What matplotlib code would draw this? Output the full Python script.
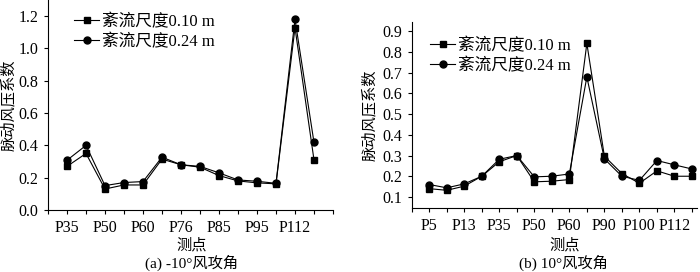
import numpy as np
import matplotlib
matplotlib.use('Agg')
import matplotlib.pyplot as plt

plt.rcParams['font.family'] = ['Liberation Serif', 'Noto Sans CJK SC']
plt.rcParams['font.size'] = 11.5

# (a) -10 deg
labels_a = ['P35', 'P50', 'P60', 'P76', 'P85', 'P95', 'P112']
a_010 = [0.27, 0.35, 0.13, 0.155, 0.155, 0.315, 0.28, 0.265, 0.213, 0.18, 0.168, 0.162, 1.128, 0.31]
a_024 = [0.308, 0.40, 0.151, 0.17, 0.176, 0.327, 0.28, 0.27, 0.23, 0.186, 0.178, 0.165, 1.18, 0.418]

# (b) 10 deg
labels_b = ['P5', 'P13', 'P35', 'P50', 'P60', 'P90', 'P100', 'P112']
b_010 = [0.14, 0.132, 0.152, 0.20, 0.27, 0.30, 0.173, 0.176, 0.184, 0.842, 0.297, 0.213, 0.166, 0.226, 0.20, 0.20]
b_024 = [0.16, 0.144, 0.163, 0.20, 0.282, 0.30, 0.197, 0.20, 0.211, 0.68, 0.284, 0.20, 0.18, 0.276, 0.255, 0.235]

legend_names = ['紊流尺度0.10 m', '紊流尺度0.24 m']

fig = plt.figure(figsize=(7, 2.72), dpi=100)
W, H = 700, 272

ax1 = fig.add_axes([48 / W, (H - 210) / H, 285 / W, 210 / H])
ax2 = fig.add_axes([411.7 / W, (H - 208.3) / H, 285.5 / W, (208.3 - 21.7) / H])


def draw(ax, y1, y2, labels, xmax, legend_xy, label_x):
    x = np.arange(len(y1))
    ax.plot(x, y1, '-s', color='black', lw=0.8, ms=4.4, label=legend_names[0])
    ax.plot(x, y2, '-o', color='black', lw=0.8, ms=5, label=legend_names[1])
    ax.set_xlim(-1, xmax)
    ax.set_xticks(np.arange(0, 2 * len(labels), 2))
    ax.set_xticklabels(labels)
    ax.set_xticks(np.arange(-1, int(xmax) + 1, 1), minor=True)
    ax.tick_params(which='both', direction='out', length=3, width=0.8, pad=4)
    ax.spines['top'].set_visible(False)
    ax.spines['right'].set_visible(False)
    for s in ['left', 'bottom']:
        ax.spines[s].set_linewidth(0.8)
    ax.set_ylabel('脉动风压系数', fontsize=11)
    ax.yaxis.set_label_coords(label_x, 0.5)
    ax.legend(loc='upper left', bbox_to_anchor=legend_xy, bbox_transform=fig.transFigure,
              frameon=False, fontsize=12, handlelength=1.5, handletextpad=0.2,
              labelspacing=0.2, borderpad=0, borderaxespad=0)


draw(ax1, a_010, a_024, labels_a, 14, (74 / W, 1 - 14 / H), -0.113)
ax1.set_ylim(0, 1.3)
ax1.set_yticks(np.arange(0, 1.21, 0.2))
ax1.set_yticklabels(['%.1f' % v for v in np.arange(0, 1.21, 0.2)])

draw(ax2, b_010, b_024, labels_b, 15.3, (430 / W, 1 - 38 / H), -0.12)
ax2.set_ylim(0.045, 0.947)
ax2.set_yticks(np.arange(0.1, 0.91, 0.1))
ax2.set_yticklabels(['%.1f' % v for v in np.arange(0.1, 0.91, 0.1)])

fig.text(192 / W, 1 - 245 / H, '测点', ha='center', va='center', fontsize=11)
fig.text(192 / W, 1 / H, '(a) -10°风攻角', ha='center', va='bottom', fontsize=11)
fig.text(565 / W, 1 - 245 / H, '测点', ha='center', va='center', fontsize=11)
fig.text(563 / W, 1 / H, '(b) 10°风攻角', ha='center', va='bottom', fontsize=11)

fig.savefig('out.png', dpi=100)
